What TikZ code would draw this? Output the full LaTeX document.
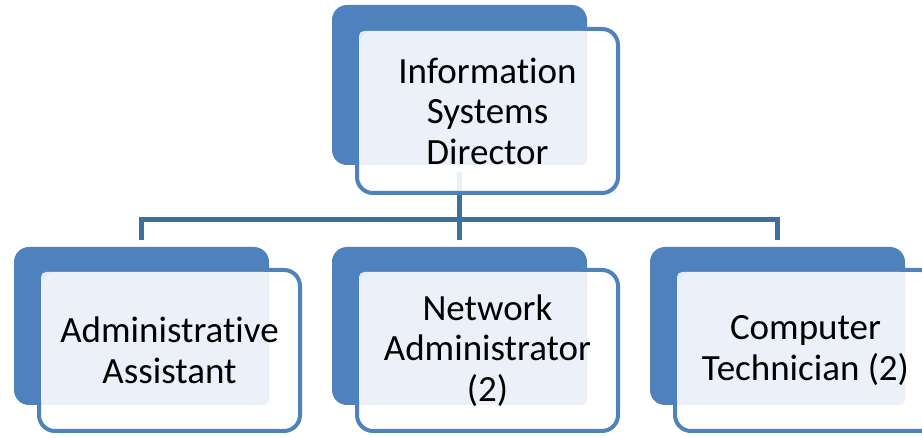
\documentclass[tikz,border=0pt]{standalone}
\usepackage{fontspec}
\setmainfont{Carlito}[Ligatures=NoCommon]
\definecolor{boxblue}{HTML}{4F81BD}
\definecolor{linkblue}{HTML}{3F6FA1}
\definecolor{lightfill}{HTML}{ECF0F8}
\begin{document}
\begin{tikzpicture}[x=1pt,y=-1pt,
  bluebox/.style={rectangle, fill=boxblue, draw=none, rounded corners=15pt,
    inner sep=0pt, outer sep=0pt, minimum width=255pt, anchor=north west},
  whitebox/.style={rectangle, fill=white, fill opacity=0.9, draw=boxblue, draw opacity=1,
    line width=4pt, rounded corners=16pt, inner sep=0pt, outer sep=0pt,
    minimum width=261pt, anchor=north west},
  lightbox/.style={rectangle, fill=lightfill, fill opacity=0.95, draw=none,
    rounded corners=5pt, inner sep=0pt, outer sep=0pt, minimum width=228pt,
    anchor=north west},
  lbl/.style={align=center, inner sep=0pt, font=\fontsize{37}{40.5}\selectfont, text=black},
  conn/.style={draw=linkblue, line width=5.5pt}]
\useasboundingbox (0,0) rectangle (922,438);
\clip (0,0) rectangle (922,438);

% back (blue) boxes
\node[bluebox, minimum height=158pt] (b1) at (14,247) {};
\node[bluebox, minimum height=158pt] (b2) at (332,247) {};
\node[bluebox, minimum height=158pt] (b3) at (650,247) {};

% connectors
\coordinate (j) at (459.5,219.5);
\coordinate (ts) at (459.5,165);
\draw[conn, shorten <=7pt] (ts) -- (j);
\draw[conn, shorten <=7pt, shorten >=7pt] (b1.north) |- (j) -| (b3.north);
\draw[conn, shorten >=7pt] (j) -- (b2.north);

\node[bluebox, minimum height=160pt] (tb) at (332,5) {};

% front (white) frames
\node[whitebox, minimum height=164pt] (tw) at (357,29) {};
\node[whitebox, minimum height=161pt] (w1) at (39,270) {};
\node[whitebox, minimum height=161pt] (w2) at (357,270) {};
\node[whitebox, minimum height=161pt] (w3) at (675,270) {};

% light text panels
\node[lightbox, minimum height=134pt] (tl) at (359,31) {};
\node[lightbox, minimum height=133pt] (l1) at (41,272) {};
\node[lightbox, minimum height=133pt] (l2) at (359,272) {};
\node[lightbox, minimum height=133pt] (l3) at (677,272) {};

% labels
\node[lbl] (t0) at (tw.center) {Information\\Systems\\Director};
\node[lbl] (t1) at (w1.center) {Administrative\\Assistant};
\node[lbl] (t2) at (w2.center) {Network\\Administrator\\(2)};
\node[lbl] (t3) at (w3.center) {Computer\\Technician (2)};
\end{tikzpicture}
\end{document}
